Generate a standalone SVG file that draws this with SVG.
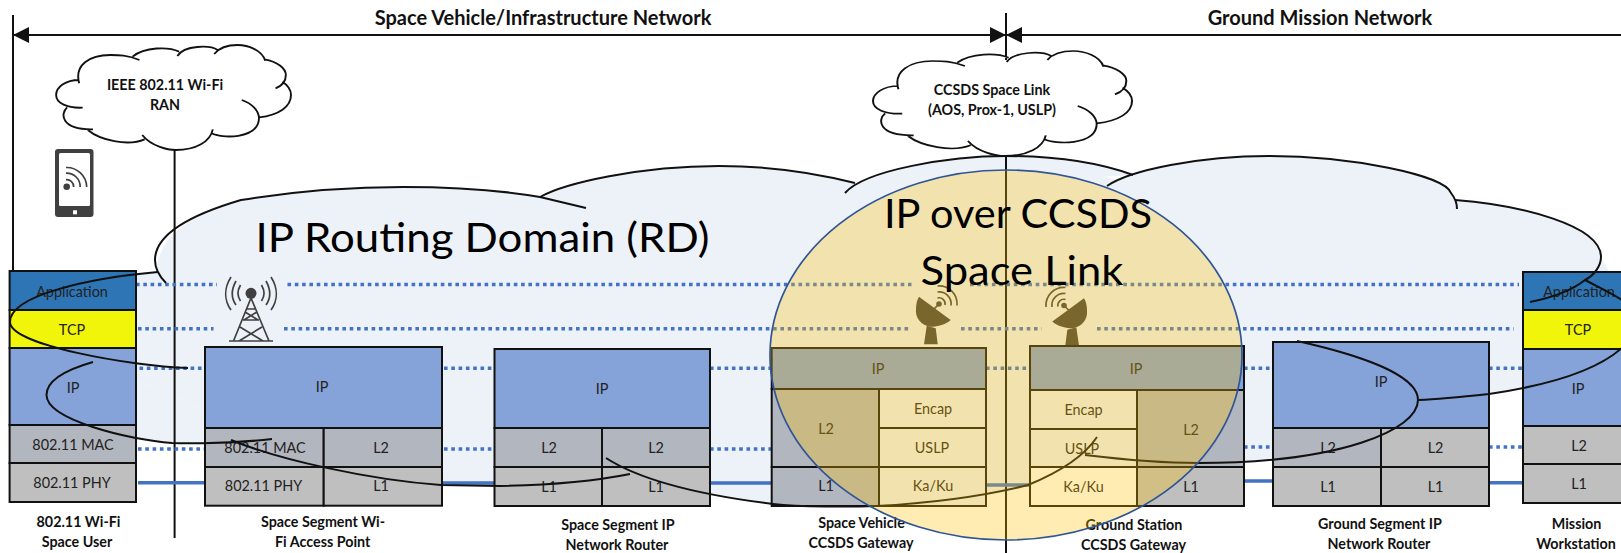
<svg xmlns="http://www.w3.org/2000/svg" width="1621" height="553" viewBox="0 0 1621 553">
<style>
text{font-family:Lato,"Liberation Sans",sans-serif;text-anchor:middle;dominant-baseline:central;fill:#222}
.c{font-size:14.400px}
.b{font-size:14.300px;font-weight:700;fill:#111}
.h{font-size:20px;font-weight:700;fill:#111}
.big{font-size:40.500px;fill:#000;dominant-baseline:auto}
.r{stroke:#111;stroke-width:2}
.app{fill:#2E75B6}.tcp{fill:#F0F50A}.ip{fill:#85A3D8}.g1{fill:#B2B6BE}.g2{fill:#BFBFBF}.lt{fill:#EDF2F9}.wh{fill:#fff}
.dot{stroke:#4472C4;stroke-width:3.500;stroke-dasharray:3.600 3.700;fill:none}
.sol{stroke:#4472C4;stroke-width:3.500;fill:none}
.ln{stroke:#111;stroke-width:2;fill:none}
.cl{stroke:#111;stroke-width:2;fill:none}
.ic{fill:#404040}
.ia{fill:none;stroke:#404040;stroke-width:1.700}
</style>
<defs>
<marker id="ah" markerUnits="userSpaceOnUse" markerWidth="16" markerHeight="16" refX="16" refY="8" orient="auto-start-reverse"><path d="M0 0L16 8L0 16Z" fill="#111"/></marker>
<path id="cloudP" d="M230 240C190 240 163 262 163 285C163 310 195 325 240 323M195 322C175 340 175 390 270 388M255 390C290 420 370 440 420 418M413 405C440 440 490 450 510 450C570 450 610 425 618 388M615 400C640 415 750 420 752 355C752 330 730 310 702 300M752 352C810 345 845 320 845 285C845 268 835 255 820 245M800 265C825 255 830 240 830 225C830 205 805 185 768 178M770 182C760 150 720 135 690 135C660 135 635 145 622 162M632 150C610 135 535 135 515 168M520 155C490 140 420 140 385 170M405 180C370 165 345 165 320 165C260 165 215 195 230 250"/>
<g id="dish"><path d="M919 296.700L950.700 320C945 325 937 327 930 326.700C921 325 915 318 916 309C916 304 917 300 919 296.700Z" class="ic"/><path d="M926.700 325.700L935.700 328.300L937.700 344.300L924 344.300Z" class="ic"/><path d="M933 310L939 304" class="ia"/><circle cx="939" cy="304" r="2.800" class="ic"/><path d="M937.500 298A6 6 0 0 1 945 305M937.500 292A12 12 0 0 1 951 305.500M937.500 286A18 18 0 0 1 957 305.500" class="ia"/></g>
</defs>

<g id="ip-routing-domain-fill" fill="#EDF2F9">
<polygon points="158,272 403,187 540,197 719,166 855,183 1006,156 1120,180 1269,156 1451,193 1455,200 1601,257 1625,300 1625,350 1419,400 1198,463 1085,455 1028,485 876,506 606,458 500,486 272,439 93,362 46,395 10,322"/>
<path d="M155 283C155 235 190 215 241 200C290 192 350 187 403 187C455 187 500 190 540 197ZM540 197C565 183 640 166 719 166C770 166 820 174 855 183ZM845 193C865 170 950 156 1006 156C1060 156 1100 163 1133 175ZM1107 186C1130 170 1200 156 1269 156C1350 156 1445 175 1451 193ZM1455 200C1520 205 1601 225 1601 257C1601 265 1595 275 1586 281ZM1625 345C1600 370 1550 385 1489 394C1460 397 1440 399 1419 400ZM1297 341C1360 355 1418 375 1418 400C1418 430 1340 463 1198 463C1150 463 1110 458 1085 455ZM1097 437C1085 455 1060 472 1028 485C1000 492 950 502 876 506C850 507 800 507 773 504C700 495 640 480 606 458ZM630 474C600 480 560 485 500 486L441 485C370 480 280 460 231 440ZM272 439C220 445 172 443 172 443C130 440 46.500 420 46.500 395C46.500 380 65 370 93 362ZM188 368C130 366 10 345 10 322C10 295 90 278 158 272Z"/>
</g>

<text id="rd-label" class="big" x="482.500" y="252" textLength="454" lengthAdjust="spacingAndGlyphs">IP Routing Domain (RD)</text>

<g id="connectors">
<path class="ln" d="M13 15V272M174.600 150V538M1006 13V60M1006 156V553"/>
<path class="ln" d="M13 35H1006" marker-start="url(#ah)" marker-end="url(#ah)"/>
<path class="ln" d="M1006 35H1637" marker-start="url(#ah)" marker-end="url(#ah)"/>
<path class="dot" d="M136 284.500H217M287.500 284.500H911.500M970 284.500H1519"/>
<path class="dot" d="M138 328.700H213.500M284 328.700H909M961 328.700H1041.600M1097 328.700H1513.600"/>
<path class="dot" d="M139.500 368.300H205M444 368.300H494.500M710 368.300H771.700M986 368.300H1030M1244 368.300H1273M1489 368.300H1523"/>
<path class="dot" d="M138 449H205M444 449H494.500M710 449H771.700M1244 447H1273M1489 447H1523"/>
<path class="sol" d="M138 482.700H205M442 483H494.500M710 483H771.700M983 485H1030M1244 481H1273M1489 482.700H1523"/>
</g>

<g id="node-wifi-user">
<rect class="r app" x="9.600" y="271" width="126.400" height="39"/><rect class="r tcp" x="9.600" y="310" width="126.400" height="38"/><rect class="r ip" x="9.600" y="348" width="126.400" height="77"/><rect class="r g1" x="9.600" y="425" width="126.400" height="38"/><rect class="r g2" x="9.600" y="463" width="126.400" height="39"/>
<text class="c" x="72" y="291">Application</text><text class="c" x="72" y="329">TCP</text><text class="c" x="73" y="387">IP</text><text class="c" x="73" y="444">802.11 MAC</text><text class="c" x="72" y="482">802.11 PHY</text>
<text class="b" x="78.500" y="521">802.11 Wi-Fi</text><text class="b" x="77" y="541">Space User</text>
</g>

<g id="node-wifi-ap">
<rect class="r ip" x="205" y="347" width="237" height="81"/><rect class="r g1" x="205" y="428" width="118.700" height="39"/><rect class="r g1" x="323.700" y="428" width="118.300" height="39"/><rect class="r g2" x="205" y="467" width="118.700" height="38.700"/><rect class="r g2" x="323.700" y="467" width="118.300" height="38.700"/>
<text class="c" x="322" y="386">IP</text><text class="c" x="265" y="447">802.11 MAC</text><text class="c" x="381" y="447">L2</text><text class="c" x="263.500" y="485">802.11 PHY</text><text class="c" x="381" y="485">L1</text>
<text class="b" x="323" y="521">Space Segment Wi-</text><text class="b" x="322.700" y="541">Fi Access Point</text>
</g>

<g id="node-space-router">
<rect class="r ip" x="494.500" y="349" width="215.500" height="79"/><rect class="r g1" x="494.500" y="428" width="107.500" height="39"/><rect class="r g1" x="602" y="428" width="108" height="39"/><rect class="r g2" x="494.500" y="467" width="107.500" height="39"/><rect class="r g2" x="602" y="467" width="108" height="39"/>
<text class="c" x="602" y="388">IP</text><text class="c" x="549" y="447">L2</text><text class="c" x="656" y="447">L2</text><text class="c" x="549" y="486">L1</text><text class="c" x="656" y="486">L1</text>
<text class="b" x="618" y="524">Space Segment IP</text><text class="b" x="617" y="544">Network Router</text>
</g>

<g id="node-sv-gateway">
<use href="#dish"/>
<rect class="r ip" x="771.700" y="348" width="214.300" height="41"/><rect class="r g1" x="771.700" y="389" width="107.300" height="78"/><rect class="r lt" x="879" y="389" width="107" height="39"/><rect class="r lt" x="879" y="428" width="107" height="39"/><rect class="r lt" x="879" y="467" width="107" height="39"/><rect class="r g1" x="771.700" y="467" width="107.300" height="39"/>
<text class="c" x="878" y="368">IP</text><text class="c" x="826" y="428">L2</text><text class="c" x="933" y="408">Encap</text><text class="c" x="932" y="447">USLP</text><text class="c" x="933" y="485">Ka/Ku</text><text class="c" x="826" y="485">L1</text>
<text class="b" x="861.500" y="522">Space Vehicle</text><text class="b" x="861" y="542">CCSDS Gateway</text>
</g>

<g id="node-gs-gateway">
<use href="#dish" transform="translate(2003,1.500) scale(-1,1)"/>
<rect class="r ip" x="1030" y="346" width="214" height="44"/><rect class="r lt" x="1030" y="390" width="107" height="39"/><rect class="r lt" x="1030" y="429" width="107" height="38"/><rect class="r wh" x="1030" y="467" width="107" height="39"/><rect class="r g1" x="1137" y="390" width="107" height="77"/><rect class="r g2" x="1137" y="467" width="107" height="39"/>
<text class="c" x="1136" y="368">IP</text><text class="c" x="1083.500" y="409">Encap</text><text class="c" x="1082" y="448">USLP</text><text class="c" x="1083.500" y="486">Ka/Ku</text><text class="c" x="1191" y="429">L2</text><text class="c" x="1191" y="486">L1</text>
<text class="b" x="1134" y="524">Ground Station</text><text class="b" x="1133.500" y="544">CCSDS Gateway</text>
</g>

<g id="node-ground-router">
<rect class="r ip" x="1273" y="342" width="216" height="86"/><rect class="r g1" x="1273" y="428" width="108" height="39"/><rect class="r g2" x="1381" y="428" width="108" height="39"/><rect class="r g2" x="1273" y="467" width="108" height="39"/><rect class="r g2" x="1381" y="467" width="108" height="39"/>
<text class="c" x="1381" y="381">IP</text><text class="c" x="1328" y="447">L2</text><text class="c" x="1435.500" y="447">L2</text><text class="c" x="1328" y="486">L1</text><text class="c" x="1435.500" y="486">L1</text>
<text class="b" x="1380" y="523">Ground Segment IP</text><text class="b" x="1379" y="543">Network Router</text>
</g>

<g id="node-workstation">
<rect class="r app" x="1523" y="272" width="110" height="38"/><rect class="r tcp" x="1523" y="310" width="110" height="39"/><rect class="r ip" x="1523" y="349" width="110" height="77"/><rect class="r g2" x="1523" y="426" width="110" height="38"/><rect class="r g2" x="1523" y="464" width="110" height="39"/>
<text class="c" x="1579" y="291">Application</text><text class="c" x="1578" y="329">TCP</text><text class="c" x="1578" y="388">IP</text><text class="c" x="1579" y="445">L2</text><text class="c" x="1579" y="483">L1</text>
<text class="b" x="1576.600" y="523">Mission</text><text class="b" x="1576" y="543">Workstation</text>
</g>

<g id="ip-routing-domain-outline" class="cl">
<path d="M166 283C158 275 155 268 155 260C155 235 190 215 241 200C290 192 350 187 403 187C455 187 500 190 540 197L586 208"/>
<path d="M540 197C565 183 640 166 719 166C770 166 820 174 855 183"/>
<path d="M845 193C865 170 950 156 1006 156C1060 156 1100 163 1133 175"/>
<path d="M1107 186C1130 170 1200 156 1269 156C1350 156 1445 175 1451 193C1455 198 1457 203 1457 209"/>
<path d="M1455 200C1520 205 1601 225 1601 257C1601 265 1595 275 1585 280C1570 292 1550 298 1530 302"/>
<path d="M1585 280C1600 288 1610 292 1625 302"/>
<path d="M1625 345C1600 370 1550 385 1489 394C1460 397 1440 399 1419 400"/>
<path d="M1297 341C1360 355 1418 375 1418 400C1418 430 1340 463 1198 463C1150 463 1110 458 1085 455"/>
<path d="M1097 437C1085 455 1060 472 1028 485C1000 492 950 502 876 506C850 507 800 507 773 504C700 495 640 480 606 458"/>
<path d="M630 474C600 480 560 485 500 486L441 485C370 480 280 460 231 440"/>
<path d="M272 439C220 445 172 443 172 443C130 440 46.500 420 46.500 395C46.500 380 65 370 93 362"/>
<path d="M188 368C130 366 10 345 10 322C10 295 90 278 158 272"/>
</g>

<g id="cloud-wifi-ran">
<g transform="translate(0,0) scale(.3444,.3333)"><polygon fill="#fff" points="230,240 385,170 515,168 622,162 768,178 820,245 752,352 618,388 510,450 420,418 270,388 195,322"/><use href="#cloudP" fill="#fff"/><use href="#cloudP" fill="none" stroke="#111" stroke-width="5.500"/></g>
<text class="b" x="165" y="84">IEEE 802.11 Wi-Fi</text><text class="b" x="165" y="104">RAN</text>
</g>

<g id="cloud-ccsds">
<g transform="translate(811.100,6) scale(.3798,.3333)"><polygon fill="#fff" points="230,240 385,170 515,168 622,162 768,178 820,245 752,352 618,388 510,450 420,418 270,388 195,322"/><use href="#cloudP" fill="#fff"/><use href="#cloudP" fill="none" stroke="#111" stroke-width="5.200"/></g>
<text class="b" x="992" y="89">CCSDS Space Link</text><text class="b" x="992" y="109">(AOS, Prox-1, USLP)</text>
</g>

<g id="icon-phone">
<rect class="ic" x="55" y="149" width="38.500" height="68" rx="3"/><rect fill="#fff" x="59" y="153" width="31" height="53" rx="1.500"/><rect fill="#fff" x="73" y="210.300" width="4" height="4"/>
<circle class="ic" cx="66.700" cy="186.700" r="3.300"/>
<path class="ia" d="M66 179.700A7 7 0 0 1 73.700 187M66 173.200A13.500 13.500 0 0 1 80.200 187M66 167.500A20 20 0 0 1 86.700 187"/>
</g>

<g id="icon-tower">
<circle class="ic" cx="251" cy="293.300" r="5.500"/>
<path class="ia" d="M233.500 341L251 298L269 341M229 341H273M243 320H259M246.500 309H255.500M240 327L263 341M262 327L239 341M245 312L258 320M257 312L244 320"/>
<path class="ia" d="M231 277C224 288 224 300 231 310M236 281C231 290 231 298 236 305M240.500 285C237 291 237 296 240.500 301M271 277C278 288 278 300 271 310M266 281C271 290 271 298 266 305M261.500 285C265 291 265 296 261.500 301"/>
</g>

<g id="headers">
<text class="h" x="543" y="17">Space Vehicle/Infrastructure Network</text>
<text class="h" x="1320" y="17">Ground Mission Network</text>
</g>

<g id="ip-over-ccsds">
<ellipse cx="1006" cy="355" rx="236" ry="185" fill="#FFC000" fill-opacity=".3" stroke="#2F5597" stroke-width="1.700"/>
<text class="big" x="1018" y="228" textLength="268" lengthAdjust="spacingAndGlyphs">IP over CCSDS</text>
<text class="big" x="1022" y="285" textLength="203" lengthAdjust="spacingAndGlyphs">Space Link</text>
</g>
</svg>
